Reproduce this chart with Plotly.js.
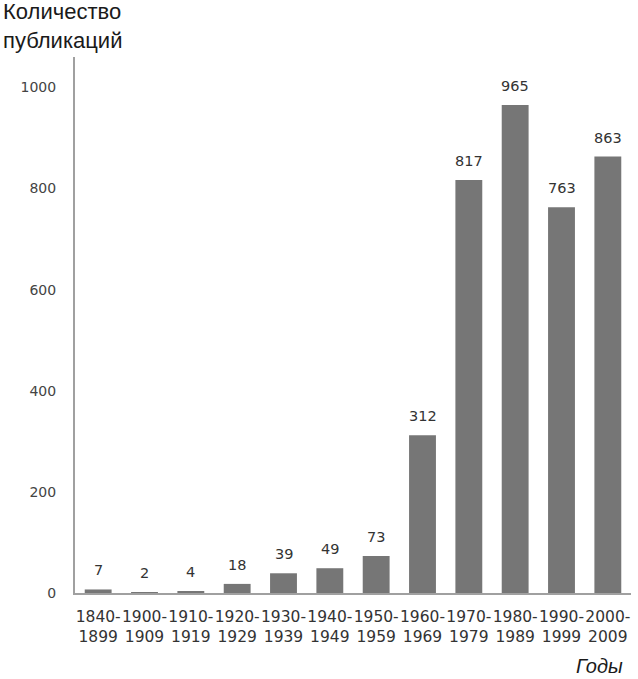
<!DOCTYPE html>
<html>
<head>
<meta charset="utf-8">
<script src="https://cdn.plot.ly/plotly-3.0.1.min.js"></script>
<style>
  html, body { margin: 0; padding: 0; background: #fff; }
  #gd { width: 638px; height: 679px; }
</style>
</head>
<body>
<div id="gd"></div>
<script>
// periods (two-line labels) and number of publications
var periods = ['1840-1899', '1900-1909', '1910-1919', '1920-1929', '1930-1939', '1940-1949',
               '1950-1959', '1960-1969', '1970-1979', '1980-1989', '1990-1999', '2000-2009'];
var counts = [7, 2, 4, 18, 39, 49, 73, 312, 817, 965, 763, 863];
var yTicks = [0, 200, 400, 600, 800, 1000];

var tickText = periods.map(function (p) { return p.replace('-', '-<br>'); });

var bars = {
    type: 'bar',
    x: periods,
    y: counts,
    marker: { color: '#767676' },
    hoverinfo: 'x+y'
};

// value labels above bars
var labels = periods.map(function (p, i) {
    return {
        x: p, y: counts[i], xref: 'x', yref: 'y',
        text: String(counts[i]),
        showarrow: false,
        yanchor: 'bottom',
        yshift: 9,
        font: { family: 'DejaVu Sans', size: 14.5, color: '#333' }
    };
});

labels.push({
    xref: 'paper', yref: 'paper', x: -0.133, y: 1.0, xanchor: 'left', yanchor: 'bottom', yshift: 2,
    align: 'left',
    text: 'Количество<br>публикаций',
    showarrow: false,
    font: { family: 'Liberation Sans', size: 22, color: '#1a1a1a' }
});
labels.push({
    xref: 'paper', yref: 'paper', x: 0.99, y: 0, xanchor: 'right', yanchor: 'top', yshift: -60,
    text: '<i>Годы</i>',
    showarrow: false,
    font: { family: 'Liberation Sans', size: 20, color: '#1a1a1a' }
});

var layout = {
    width: 638,
    height: 679,
    margin: { l: 75, r: 7, t: 57, b: 86 },
    paper_bgcolor: '#fff',
    plot_bgcolor: '#fff',
    showlegend: false,
    bargap: 0.42,
    xaxis: {
        type: 'category',
        tickvals: periods,
        ticktext: tickText,
        showgrid: false,
        zeroline: false,
        showline: true,
        linecolor: '#a0a0a0',
        linewidth: 2,
        ticks: '',
        tickangle: 0,
        ticklabelstandoff: 8,
        tickfont: { family: 'DejaVu Sans', size: 15.5, color: '#333' }
    },
    yaxis: {
        range: [0, 1060],
        tickvals: yTicks,
        ticktext: yTicks.map(String),
        showgrid: false,
        zeroline: false,
        showline: true,
        linecolor: '#a0a0a0',
        linewidth: 2,
        ticks: '',
        ticklabelstandoff: 14,
        tickfont: { family: 'DejaVu Sans', size: 14, color: '#444' }
    },
    annotations: labels
};

Plotly.newPlot('gd', [bars], layout, { displayModeBar: false, staticPlot: true });
</script>
</body>
</html>
